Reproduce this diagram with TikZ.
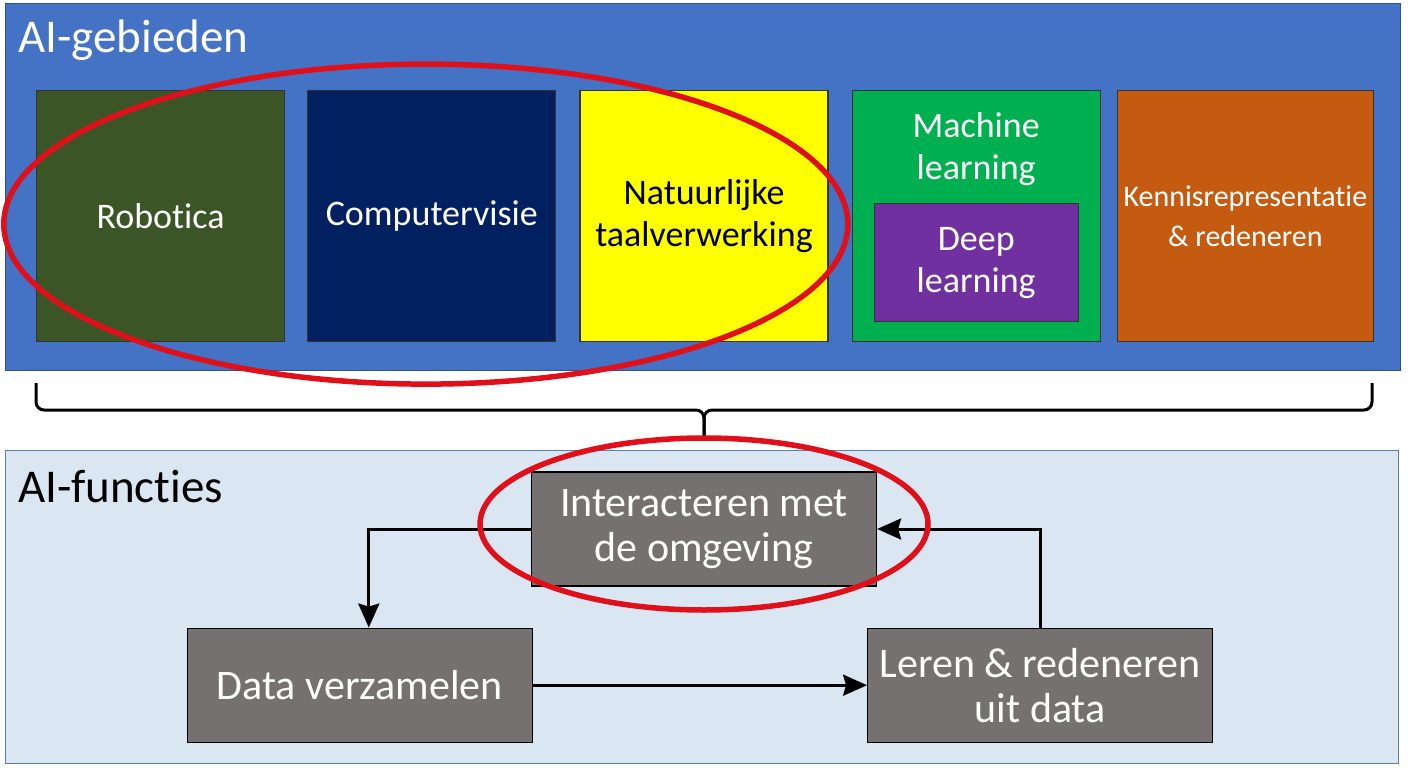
\documentclass[tikz,border=0pt]{standalone}
\usepackage{fontspec}
\setmainfont{Carlito}[Ligatures=NoCommon]
\usepackage{tikz}
\usetikzlibrary{arrows.meta,positioning}

\definecolor{panelblue}{HTML}{4472C4}
\definecolor{panelrim}{HTML}{2F528F}
\definecolor{panellight}{HTML}{DAE6F1}
\definecolor{lightrim}{HTML}{5B7FA6}
\definecolor{robogreen}{HTML}{3C5526}
\definecolor{visionblue}{HTML}{002060}
\definecolor{nlpyellow}{HTML}{FFFF00}
\definecolor{mlgreen}{HTML}{00B050}
\definecolor{dlpurple}{HTML}{7030A0}
\definecolor{krorange}{HTML}{C55A11}
\definecolor{funcgrey}{HTML}{767171}
\definecolor{markred}{HTML}{E0101A}

\begin{document}
\begin{tikzpicture}[
  x=1pt, y=-1pt,
  panel/.style  = {rectangle, draw=#1, line width=1.2pt,
                   inner sep=0pt, anchor=north west},
  area/.style   = {rectangle, draw=black!80, line width=1.2pt,
                   fill=#1, text=white, align=center, inner sep=0pt,
                   minimum width=248pt, minimum height=251pt,
                   font=\fontsize{36}{42}\selectfont},
  area/.default = robogreen,
  func/.style   = {rectangle, draw=black, line width=1.2pt,
                   fill=funcgrey, text=white, align=center, inner sep=0pt,
                   minimum width=345pt, minimum height=114pt,
                   font=\fontsize{42}{45}\selectfont},
  title/.style  = {font=\fontsize{47}{50}\selectfont,
                   anchor=base west, inner sep=0pt},
  arrow/.style  = {-{Stealth[length=24pt, width=21pt, inset=3pt]},
                   line width=3pt},
  redring/.style = {draw=markred, line width=5.5pt},
  bracket/.style = {line width=3pt, rounded corners=8pt}
]
\fill[white] (0,0) rectangle (1408,768);
\useasboundingbox (0,0) rectangle (1408,768);

%% --- AI-gebieden panel -------------------------------------------
\node[panel=panelrim, fill=panelblue,
      minimum width=1395pt, minimum height=367pt] (gebieden) at (5,3) {};
\node[title, text=white] (gtitle) at (18,53) {AI-gebieden};

\node[area, anchor=north west] (robotica) at (36,90) {Robotica};
\node[area=visionblue, right=22pt of robotica] (vision) {Computervisie};
\node[area=nlpyellow, text=black, right=23pt of vision] (nlp)
  {Natuurlijke\\taalverwerking};
\node[area=mlgreen, right=23pt of nlp] (ml) {};
\node[text=white, align=center, inner sep=0pt,
      font=\fontsize{36}{42}\selectfont,
      below=22pt of ml.north] (mltext) {Machine\\learning};
\node[area=dlpurple, minimum width=204pt, minimum height=118pt,
      above=20pt of ml.south] (deep) {Deep\\learning};
\node[area=krorange, minimum width=256pt,
      font=\fontsize{30}{40}\selectfont,
      right=16pt of ml] (kr) {Kennisrepresentatie\\\& redeneren};

%% --- bracket between the panels ----------------------------------
\draw[bracket] (36,383) -- (36,410) -- (704,410) -- (704,437);
\draw[bracket] (1372,383) -- (1372,410) -- (704,410) -- (704,437);

%% --- AI-functies panel -------------------------------------------
\node[panel=lightrim, fill=panellight,
      minimum width=1393pt, minimum height=313pt] (functies) at (5,450) {};
\node[title] (ftitle) at (18,502) {AI-functies};

\node[func] (interact) at (704,529) {Interacteren met\\de omgeving};
\node[func, below left=41pt and -2pt of interact] (data) {Data verzamelen};
\node[func, below right=41pt and -10pt of interact] (leren)
  {Leren \& redeneren\\uit data};

%% --- cycle arrows ------------------------------------------------
\draw[arrow] (interact.west) -| ([xshift=9pt]data.north);
\draw[arrow] (data) -- (leren);
\draw[arrow] (leren.north) |- (interact.east);

%% --- red highlight rings -----------------------------------------
\draw[redring] ([xshift=-6pt, yshift=-8pt]vision.center)
  ellipse [x radius=422pt, y radius=160pt];
\draw[redring] ([yshift=5pt]interact.center)
  ellipse [x radius=224pt, y radius=86pt];

\end{tikzpicture}
\end{document}
